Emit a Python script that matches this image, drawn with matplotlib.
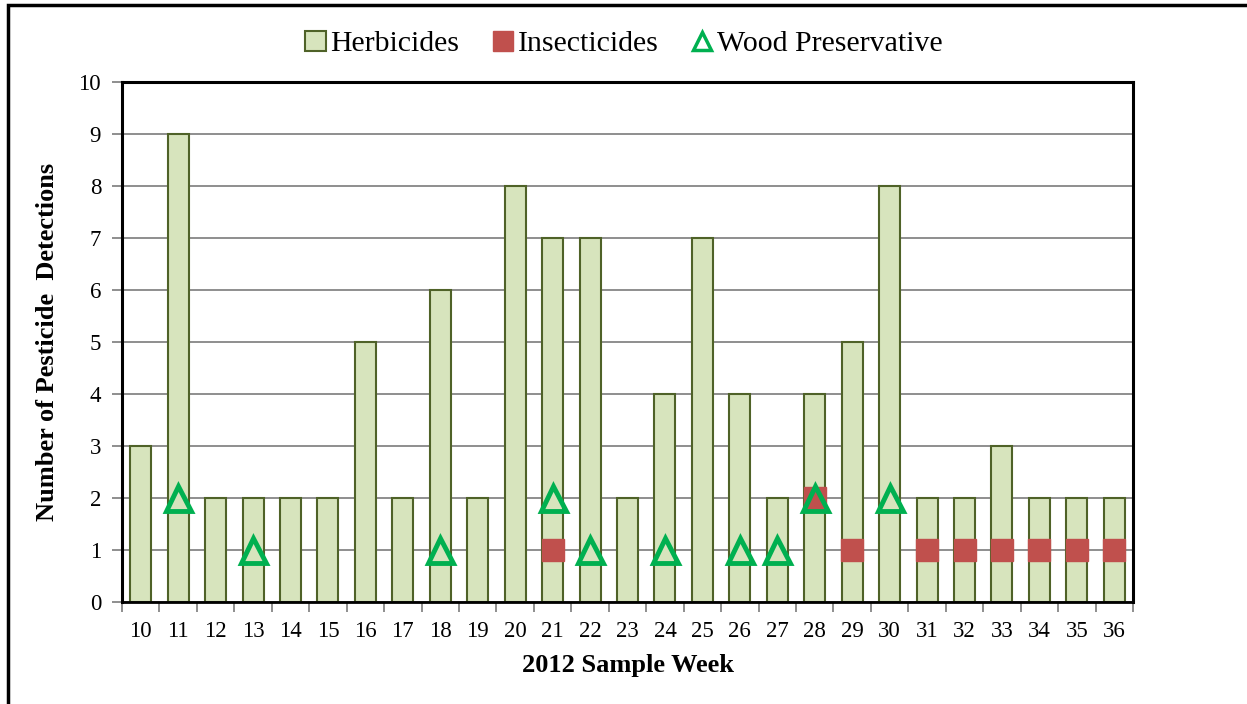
import numpy as np
import matplotlib
matplotlib.use("Agg")
import matplotlib.pyplot as plt
from matplotlib.patches import Patch, Rectangle
from matplotlib.lines import Line2D

plt.rcParams["font.family"] = ["Liberation Serif", "DejaVu Serif"]

weeks = ["10", "11", "12", "13", "14", "15", "16", "17", "18", "19", "20", "21", "22",
         "23", "24", "25", "26", "27", "28", "29", "30", "31", "32", "33", "34", "35", "36"]
herbicides = [3, 9, 2, 2, 2, 2, 5, 2, 6, 2, 8, 7, 7, 2, 4, 7, 4, 2, 4, 5, 8, 2, 2, 3, 2, 2, 2]
insecticides = [None, None, None, None, None, None, None, None, None, None, None, 1, None,
                None, None, None, None, None, 2, 1, None, 1, 1, 1, 1, 1, 1]
wood = [None, 2, None, 1, None, None, None, None, 1, None, None, 2, 1,
        None, 1, None, 1, 1, 2, None, 2, None, None, None, None, None, None]

herb_fill = "#d7e4bd"
herb_edge = "#4f6228"
ins_color = "#c0504d"
wood_color = "#00b050"

fig = plt.figure(figsize=(12.47, 7.04), dpi=100)
ax = fig.add_axes([122 / 1247, 1 - 602 / 704, (1133 - 122) / 1247, (602 - 82) / 704])

x = np.arange(len(weeks))
ax.bar(x, herbicides, width=0.56, color=herb_fill, edgecolor=herb_edge, linewidth=1.5, zorder=2)

ins = np.array([np.nan if v is None else v for v in insecticides], dtype=float)
wd = np.array([np.nan if v is None else v for v in wood], dtype=float)
ax.plot(x, ins, linestyle="none", marker="s", markersize=16, color=ins_color, zorder=3)
ax.plot(x, wd, linestyle="none", marker="^", markersize=18, markerfacecolor="none",
        markeredgecolor=wood_color, markeredgewidth=3.5, zorder=4)

ax.set_xlim(-0.5, len(weeks) - 0.5)
ax.set_ylim(0, 10)
ax.set_yticks(range(0, 11))
ax.yaxis.grid(True, color="#868686", linewidth=1.3, zorder=0)
ax.set_axisbelow(True)

ax.set_xticks(x)
ax.set_xticklabels(weeks)
ax.set_xticks(np.arange(-0.5, len(weeks)), minor=True)
ax.tick_params(axis="x", which="major", length=0, pad=14, labelsize=16.5)
ax.tick_params(axis="x", which="minor", length=7, width=1.3, color="#868686")
ax.tick_params(axis="y", length=7, width=1.3, color="#868686", labelsize=16.5, pad=8)

for s in ["left", "top", "right"]:
    ax.spines[s].set_linewidth(2.2)
    ax.spines[s].set_color("black")
ax.spines["bottom"].set_linewidth(2)
ax.spines["bottom"].set_color("black")

ax.set_xlabel("2012 Sample Week", fontsize=19, fontweight="bold", labelpad=8)
ax.set_ylabel("Number of Pesticide  Detections", fontsize=19, fontweight="bold", labelpad=14)

handles = [
    Patch(facecolor=herb_fill, edgecolor=herb_edge, linewidth=1.5),
    Line2D([], [], linestyle="none", marker="s", markersize=15, color=ins_color),
    Line2D([], [], linestyle="none", marker="^", markersize=13, markerfacecolor="none",
           markeredgecolor=wood_color, markeredgewidth=2.5),
]
fig.legend(handles, ["Herbicides", "Insecticides", "Wood Preservative"],
           loc="center", bbox_to_anchor=(0.5, 1 - 44 / 704), ncol=3, frameon=False,
           fontsize=21.5, handlelength=0.7, handleheight=0.7, handletextpad=0.15,
           columnspacing=1.1)

# outer chart frame (extends beyond the right and bottom edges)
fig.patches.append(Rectangle((8 / 1247, -0.1), 1.2, 1 - 5 / 704 + 0.1,
                             transform=fig.transFigure, fill=False,
                             edgecolor="black", linewidth=2.5))

fig.savefig("out.png", dpi=100)
